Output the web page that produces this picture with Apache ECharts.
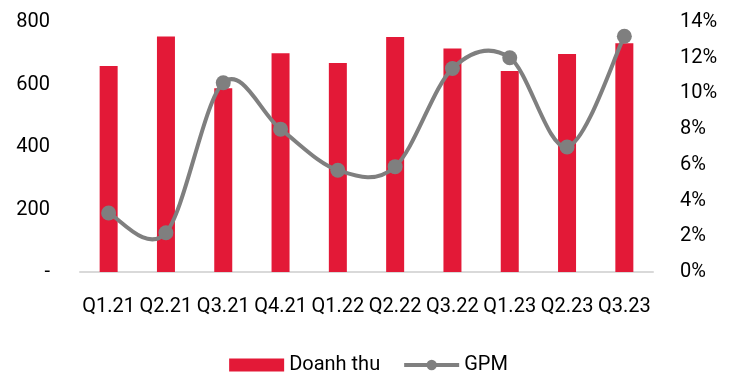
<!DOCTYPE html>
<html>
<head>
<meta charset="utf-8">
<script src="https://cdn.jsdelivr.net/npm/echarts@6/dist/echarts.min.js"></script>
<style>
  html, body { margin: 0; padding: 0; background: #fff; }
  #chart { width: 737px; height: 375px; }
</style>
</head>
<body>
<div id="chart"></div>
<script>
// Quarterly revenue (bars, left axis) and gross profit margin (line, right axis)
const categories = ['Q1.21', 'Q2.21', 'Q3.21', 'Q4.21', 'Q1.22', 'Q2.22', 'Q3.22', 'Q1.23', 'Q2.23', 'Q3.23'];
const revenue = [659, 754, 588, 700, 669, 752, 715, 643, 698, 732];
const gpm = [3.3, 2.2, 10.6, 8.0, 5.7, 5.9, 11.4, 12.0, 7.0, 13.2];
const leftTicks = { min: 0, max: 800, interval: 200 };
const rightTicks = { min: 0, max: 14, interval: 2 };

const FONT = 'Roboto, "Noto Sans", sans-serif';
const LINE_GREY = '#7f7f7f';
const BAR_RED = '#E31937';

// Cardinal (Catmull-Rom style) spline through the GPM points, drawn in pixel space
function splinePath(pts) {
  let d = 'M' + pts[0][0] + ' ' + pts[0][1];
  for (let i = 0; i < pts.length - 1; i++) {
    const p0 = pts[Math.max(i - 1, 0)];
    const p1 = pts[i];
    const p2 = pts[i + 1];
    const p3 = pts[Math.min(i + 2, pts.length - 1)];
    const c1x = p1[0] + (p2[0] - p0[0]) / 6;
    const c1y = p1[1] + (p2[1] - p0[1]) / 6;
    const c2x = p2[0] - (p3[0] - p1[0]) / 6;
    const c2y = p2[1] - (p3[1] - p1[1]) / 6;
    d += ' C' + c1x + ' ' + c1y + ' ' + c2x + ' ' + c2y + ' ' + p2[0] + ' ' + p2[1];
  }
  return d;
}

const chart = echarts.init(document.getElementById('chart'));

chart.setOption({
  animation: false,
  textStyle: { fontFamily: FONT },
  grid: { left: 80, right: 84, top: 22, bottom: 103 },
  legend: {
    top: 350,
    left: 'center',
    itemGap: 22,
    itemWidth: 55,
    itemHeight: 13,
    textStyle: { fontFamily: FONT, fontSize: 20, color: '#000' },
    data: [
      { name: 'Doanh thu', icon: 'rect' },
      {
        name: 'GPM',
        lineStyle: { color: LINE_GREY, width: 4, opacity: 1 },
        itemStyle: { color: LINE_GREY }
      }
    ]
  },
  xAxis: {
    type: 'category',
    data: categories,
    axisLine: { lineStyle: { color: '#d9d9d9', width: 2 } },
    axisTick: { show: false },
    axisLabel: { color: '#000', fontSize: 20, fontFamily: FONT, margin: 25, interval: 0 }
  },
  yAxis: [
    {
      type: 'value',
      min: leftTicks.min, max: leftTicks.max, interval: leftTicks.interval,
      splitLine: { show: false },
      axisLine: { show: false },
      axisTick: { show: false },
      axisLabel: {
        color: '#000', fontSize: 20, fontFamily: FONT, margin: 30,
        formatter: v => (v === 0 ? '-' : String(v))
      }
    },
    {
      type: 'value',
      min: rightTicks.min, max: rightTicks.max, interval: rightTicks.interval,
      splitLine: { show: false },
      axisLine: { show: false },
      axisTick: { show: false },
      axisLabel: {
        color: '#000', fontSize: 20, fontFamily: FONT, margin: 27,
        formatter: v => v + '%'
      }
    }
  ],
  series: [
    {
      name: 'Doanh thu',
      type: 'bar',
      data: revenue,
      barWidth: 18,
      itemStyle: { color: BAR_RED }
    },
    {
      // smooth GPM curve
      type: 'custom',
      yAxisIndex: 1,
      data: [[0, 0]],
      silent: true,
      clip: false,
      z: 3,
      renderItem: (params, api) => {
        const pts = gpm.map((v, i) => api.coord([i, v]));
        return {
          type: 'path',
          shape: { pathData: splinePath(pts) },
          style: { stroke: LINE_GREY, lineWidth: 4, fill: 'none' }
        };
      }
    },
    {
      name: 'GPM',
      type: 'line',
      yAxisIndex: 1,
      data: gpm,
      symbol: 'circle',
      symbolSize: 15,
      z: 4,
      lineStyle: { opacity: 0 },
      itemStyle: { color: LINE_GREY }
    }
  ]
});
</script>
</body>
</html>
